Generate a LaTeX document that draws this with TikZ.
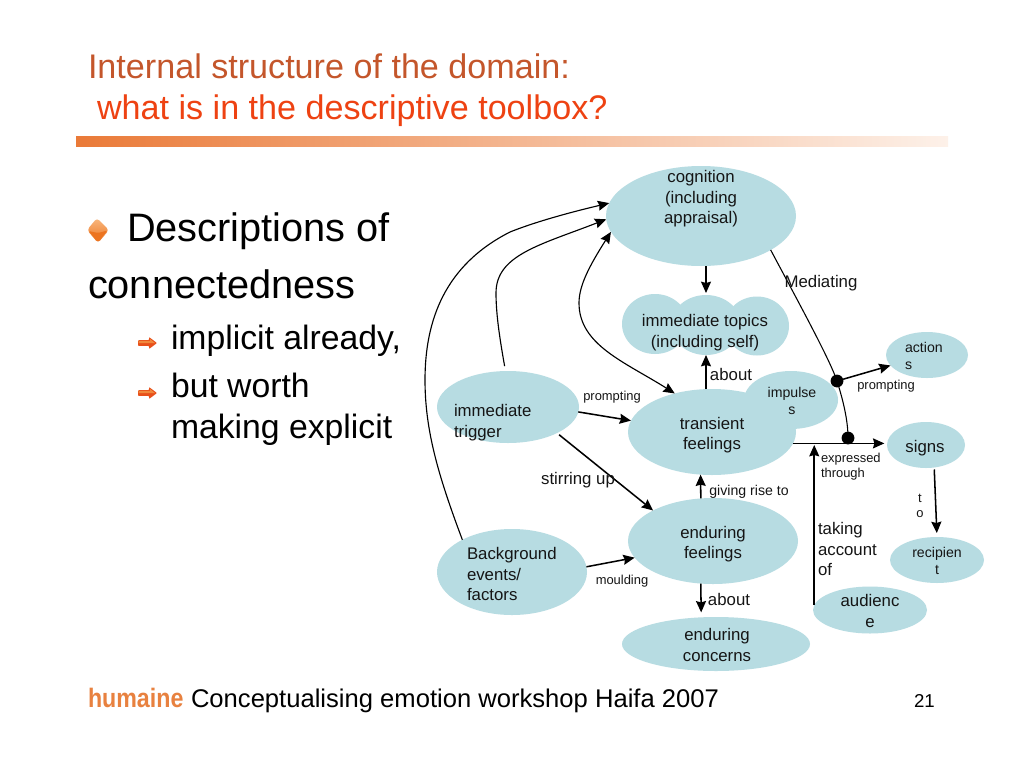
\documentclass[tikz,border=0pt]{standalone}
\usepackage{fontspec}
\setmainfont{Liberation Sans}
\newfontfamily\narrowbold[FakeStretch=0.87]{Liberation Sans Bold}
\usetikzlibrary{arrows.meta,shapes.geometric}
\definecolor{blob}{HTML}{B7DCE2}
\definecolor{ink}{HTML}{151515}
\definecolor{titleA}{HTML}{C4562B}
\definecolor{titleB}{HTML}{EE4212}
\definecolor{barA}{HTML}{EA7A38}
\definecolor{barB}{HTML}{FDF1E9}
\definecolor{humaineC}{HTML}{E8813F}
\definecolor{bulletA}{HTML}{F9B87F}
\definecolor{bulletB}{HTML}{EC7420}
\definecolor{bulletC}{HTML}{E8501A}
\tikzset{
  blobnode/.style 2 args={ellipse,fill=blob,draw=none,inner sep=0pt,outer sep=0pt,
    minimum width=#1*0.75pt,minimum height=#2*0.75pt},
  arr/.style={line width=1.15pt,draw=black,-{Stealth[length=8.5pt,width=7.5pt,inset=1pt]}},
  thinarr/.style={line width=0.85pt,draw=black,-{Stealth[length=8.5pt,width=7.5pt,inset=1pt]}},
  dbl/.style={line width=0.85pt,draw=black,{Stealth[length=8.5pt,width=7.5pt,inset=1pt]}-{Stealth[length=8.5pt,width=7.5pt,inset=1pt]}},
  thinline/.style={line width=0.8pt,draw=black},
  dotnode/.style={circle,fill=black,inner sep=0pt,outer sep=0pt,minimum size=9.6pt},
  lab/.style={inner sep=0pt,outer sep=0pt,text=ink,font=\fontsize{12.6}{15.4}\selectfont,align=center},
  small/.style={lab,font=\fontsize{9.7}{11.3}\selectfont},
  mid/.style={lab,font=\fontsize{10.6}{12.8}\selectfont},
  leftlab/.style={lab,align=left,anchor=west},
  head/.style={inner sep=0pt,outer sep=0pt,anchor=base west,font=\fontsize{25.6}{30}\selectfont},
  bodyA/.style={inner sep=0pt,outer sep=0pt,anchor=base west,text=black,font=\fontsize{29.8}{34}\selectfont},
  bodyB/.style={inner sep=0pt,outer sep=0pt,anchor=base west,text=black,font=\fontsize{25.3}{30}\selectfont},
}
\begin{document}
\begin{tikzpicture}[x=0.75pt,y=-0.75pt]
\useasboundingbox (0,0) rectangle (1024,768);
\fill[white] (0,0) rectangle (1024,768);

% title and bar
\node[head,text=titleA] (t1) at (88,78) {Internal structure of the domain:};
\node[head,text=titleB] (t2) at (97,119) {what is in the descriptive toolbox?};
\shade[left color=barA,right color=barB] (76,136) rectangle (948,146);

% bullets
\shade[top color=bulletA,bottom color=bulletB,rounded corners=2.5pt]
  (97,218) -- (109,230) -- (98,243) -- (87,230) -- cycle;
\fill[bulletB,rounded corners=1pt] (88.5,231) -- (98,233) -- (107.5,230.5) -- (98,242) -- cycle;
\foreach \yy in {343,393}{
  \fill[bulletC,rounded corners=.6pt] (138,\yy-2.8) -- (149,\yy-2.8) -- (149,\yy-6) -- (157,\yy) -- (149,\yy+6) -- (149,\yy+2.8) -- (138,\yy+2.8) -- cycle;
  \fill[bulletB!70!bulletA] (138.5,\yy-2.2) -- (150,\yy-2.2) -- (150,\yy-4) -- (155,\yy) -- (138.5,\yy) -- cycle;
}

% body text
\node[bodyA] (b1) at (127,241) {Descriptions of};
\node[bodyA] (b2) at (88,298) {connectedness};
\node[bodyB] (b3) at (171,349) {implicit already,};
\node[bodyB] (b4) at (171,397) {but worth};
\node[bodyB] (b5) at (171,438) {making explicit};

% ellipses
\node[blobnode={190}{100}] (cog) at (701,216) {};
\node[blobnode={66}{60}] (tl) at (655,324) {};
\node[blobnode={70}{60}] (tm) at (706,325) {};
\node[blobnode={64}{59}] (tr) at (757,326) {};
\node[blobnode={94}{58}] (imp) at (791,400) {};
\node[blobnode={168}{86}] (trans) at (712,432) {};
\node[blobnode={142}{72}] (imm) at (508,407) {};
\node[blobnode={150}{86}] (bg) at (512,572) {};
\node[blobnode={170}{86}] (enf) at (713,541) {};
\node[blobnode={188}{54}] (conc) at (716,644) {};
\node[blobnode={114}{47}] (aud) at (870,610) {};
\node[blobnode={94}{46}] (rec) at (937,560) {};
\node[blobnode={78}{46}] (sig) at (926,445) {};
\node[blobnode={82}{46}] (act) at (927,355) {};

% dots and junction
\node[dotnode] (d1) at (837,381) {};
\node[dotnode] (d2) at (848,438) {};
\coordinate (junc) at (814,445);

% connectors
\draw[thinarr] (bg.147) .. controls (438,475) and (425,430) .. (425,380)
   .. controls (425,320) and (445,265) .. (510,232)
   .. controls (540,220) and (580,210) .. (cog.172);
\draw[thinarr,shorten <=3.7pt] (imm.94) .. controls (500,340) and (496,315) .. (496,293)
   .. controls (496,255) and (540,245) .. (cog.182);
\draw[dbl] (cog.190) .. controls (590,265) and (579,285) .. (579,303)
   .. controls (579,345) and (625,362) .. (trans.134);
\draw[arr,shorten >=1.5pt] (tm.north |- cog.south) -- (tm.north);
\draw[arr] (tm.south |- trans.north) -- (tm.south);
\draw[thinline] (cog.-26) .. controls (800,305) and (830,360) .. (d1.center)
   .. controls (843,400) and (848,420) .. (d2.center);
\draw[arr] (d1) -- (act.196);
\draw[arr,shorten >=2pt] (trans.-8) -- (sig.west |- trans.-8);
\draw[arr] (aud.175) -- (aud.175 |- junc);
\draw[arr,shorten >=3pt,shorten <=1.5pt] (sig.-70) -- (rec.north);
\draw[arr] (imm.-4) -- (trans.172);
\draw[arr,shorten <=2pt] (imm.-28) -- (enf.153);
\draw[arr] (bg.4) -- (enf.192);
\draw[arr] (enf.106) -- (trans.-105);
\draw[arr,shorten >=3.7pt] (enf.-106) -- (conc.119);

% labels
\node[lab] (lcog) at (701,199) {cognition\\(including\\appraisal)};
\node[lab] (ltop) at (705,332.5) {immediate topics\\(including self)};
\node[mid] (limp) at (792,401) {impulse\\s};
\node[lab] (labt1) at (731,374) {about};
\node[small] (lpr1) at (612,397) {prompting};
\node[leftlab] (limm) at (454,422.5) {immediate\\trigger};
\node[lab] (ltr) at (712,435) {transient\\feelings};
\node[lab] (lstir) at (578,480) {stirring up};
\node[mid] (lgiv) at (749,491.5) {giving rise to};
\node[lab] (lenf) at (713,544) {enduring\\feelings};
\node[leftlab] (lbg) at (467,574) {Background\\events/\\factors};
\node[small] (lmou) at (622,581.5) {moulding};
\node[lab] (labt2) at (729,599) {about};
\node[lab] (lcon) at (717,645) {enduring\\concerns};
\node[lab] (laud) at (870,611) {audienc\\e};
\node[mid] (lrec) at (937,561) {recipien\\t};
\node[lab] (lsig) at (925,448) {signs};
\node[mid,align=left,anchor=west] (lact) at (905,356) {action\\s};
\node[small] (lpr2) at (886,386.5) {prompting};
\node[small,align=left,anchor=west] (lexp) at (821,467) {expressed\\through};
\node[small] (lto) at (920,506) {t\\o};
\node[leftlab] (ltak) at (818,549) {taking\\account\\of};
\node[lab] (lmed) at (821,283.5) {Mediating};

% footer
\node[inner sep=0pt,outer sep=0pt,anchor=base west,text=humaineC,font=\narrowbold\fontsize{20}{24}\selectfont] (hum) at (88,707) {humaine};
\node[inner sep=0pt,outer sep=0pt,anchor=base west,text=black,font=\fontsize{19.2}{23}\selectfont] (foot) at (191,707) {Conceptualising emotion workshop Haifa 2007};
\node[inner sep=0pt,outer sep=0pt,anchor=base west,text=black,font=\fontsize{14}{17}\selectfont] (pg) at (914,707) {21};
\end{tikzpicture}
\end{document}
